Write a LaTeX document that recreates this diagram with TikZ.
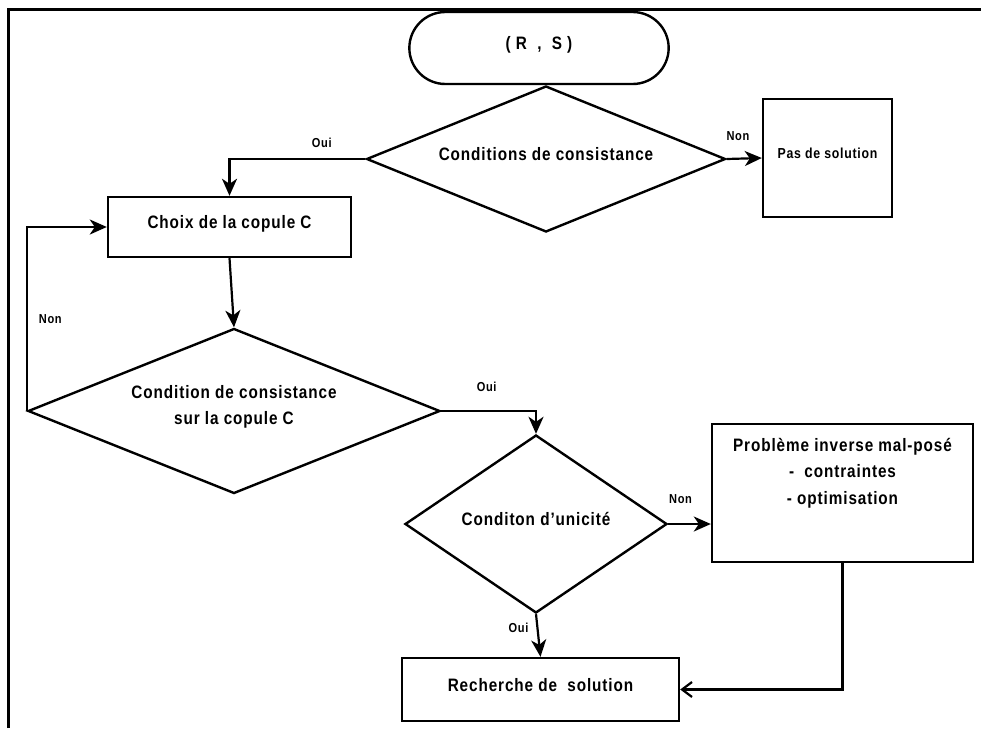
\documentclass[tikz,border=0pt]{standalone}
\usepackage{fontspec}
\setmainfont{Liberation Sans}[FakeStretch=0.85,LetterSpace=5]
\usetikzlibrary{shapes.geometric,shapes.misc,arrows.meta}

\begin{document}
\begin{tikzpicture}[x=1pt, y=-1pt,
	every node/.style={font=\fontsize{18}{26.5}\selectfont\bfseries},
	box/.style={draw, line width=2.4pt, rectangle, inner sep=0pt},
	cond/.style={draw, line width=2.4pt, diamond, inner sep=0pt},
	lift/.style={text height=13pt, text depth=10pt},
	lbl/.style={font=\fontsize{13}{15}\selectfont\bfseries, inner sep=1pt},
	arr/.style={line width=2.2pt, -{Stealth[length=17pt,width=15pt,inset=5pt]}},
	arrb/.style={line width=2.2pt, -{Straight Barb[length=10pt,width=15pt]}}]
	\useasboundingbox (0,0) rectangle (981,728);
	
	% frame
	\draw[line width=3pt] (8,728) -- (8,9) -- (981,9);
	
	% start
	\node[draw, line width=2.4pt, rounded rectangle, lift, minimum width=266pt, minimum height=72pt] (start) at (539,48) {(~R~~,~~S~)};
	
	% first test
	\node[cond, lift, shape aspect=2.46, minimum width=359pt, minimum height=146pt] (cons) at (546,159) {Conditions de consistance};
	\node[box, minimum width=129pt, minimum height=118pt, text height=10.5pt, text depth=10pt, font=\fontsize{14.5}{17}\selectfont\bfseries] (nosol) at (827.5,158) {Pas de solution};
	
	% copula
	\node[box, lift, minimum width=243pt, minimum height=60pt] (choix) at (229.5,227) {Choix de la copule C};
	\node[cond, align=center, text depth=12pt, shape aspect=2.5, minimum width=412pt, minimum height=165pt] (cons2) at (234,411) {Condition de consistance\\sur la copule C};
	
	% uniqueness
	\node[cond, lift, shape aspect=1.47, minimum width=262pt, minimum height=178pt] (uniq) at (536,524) {Conditon d’unicité};
	\node[box, minimum width=261pt, minimum height=138pt] (prob) at (842.5,493) {};
	\node[anchor=north, align=center, inner sep=0pt] (probtext) at ([yshift=-15pt]prob.north) {Problème inverse mal-posé\\-\ \ contraintes\\- optimisation};
	
	% solution
	\node[box, lift, minimum width=277pt, minimum height=63pt] (rech) at (540.5,689.5) {Recherche de \ solution};
	
	% arrows
	\draw[arr] (cons.west) -| node[lbl, above=9pt, pos=0.16] (oui1) {Oui} (choix.north);
	\draw[arr] (cons.east) -- node[lbl, above=16pt, pos=0.32] (non1) {Non} (nosol.west);
	\draw[arr] (choix.south) -- (cons2.north);
	\draw[arr] (cons2.west) |- node[lbl, right=10pt, pos=0.25] (non2) {Non} (choix.west);
	\draw[arr] (cons2.east) -| node[lbl, above=17pt, pos=0.24] (oui2) {Oui} (uniq.north);
	\draw[arr] (uniq.east) -- node[lbl, above=18pt, pos=0.29] (non3) {Non} (uniq.east -| prob.west);
	\draw[arr] (uniq.south) -- node[lbl, left=7pt, pos=0.33] (oui3) {Oui} (rech.north);
	\draw[arrb] (prob.south) |- (rech.east);
\end{tikzpicture}
\end{document}
